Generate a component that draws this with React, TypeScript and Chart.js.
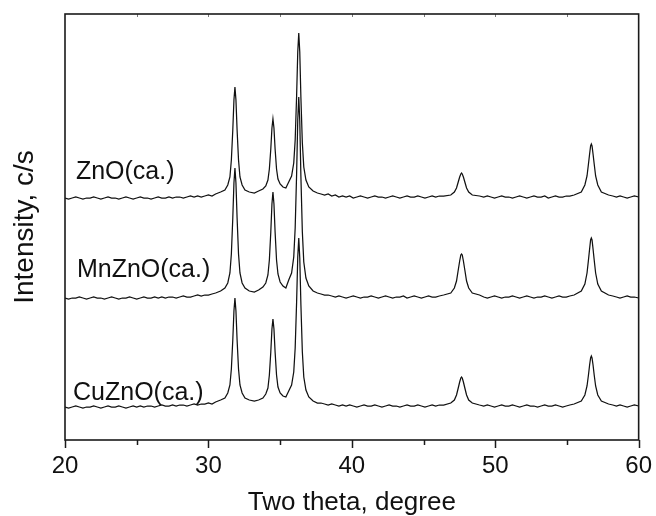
import React, { useEffect, useRef } from 'react';
import { Chart, registerables } from 'chart.js';

Chart.register(...registerables);

// Two-theta positions (degree)
const twoTheta = [
  20, 20.25, 20.5, 20.75, 21, 21.25, 21.5, 21.75, 22, 22.25, 22.5, 22.75, 23, 23.25, 23.5, 23.75, 24, 24.25, 24.5, 24.75,
  25, 25.25, 25.5, 25.75, 26, 26.25, 26.5, 26.75, 27, 27.25, 27.5, 27.75, 28, 28.25, 28.5, 28.75, 29, 29.25, 29.5, 29.75,
  30, 30.25, 30.5,
  30.85, 31.15, 31.35, 31.5, 31.6, 31.7, 31.78, 31.85, 31.92, 32.0, 32.1, 32.2, 32.35, 32.55, 32.85,
  33.2,
  33.5, 33.8, 34.0, 34.15, 34.25, 34.35, 34.43, 34.5, 34.57, 34.65, 34.75, 34.85, 35.0, 35.2,
  35.4,
  35.6, 35.8, 35.95, 36.05, 36.15, 36.23, 36.3, 36.37, 36.45, 36.55, 36.65, 36.8, 37.0, 37.3,
  37.6, 37.85, 38.1, 38.35, 38.6, 38.85, 39.1, 39.35, 39.6, 39.85, 40.1, 40.35, 40.6, 40.85, 41.1, 41.35, 41.6, 41.85,
  42.1, 42.35, 42.6, 42.85, 43.1, 43.35, 43.6, 43.85, 44.1, 44.35, 44.6, 44.85, 45.1, 45.35, 45.6, 45.85, 46.1,
  46.4, 46.9, 47.15, 47.3, 47.42, 47.52, 47.6, 47.65, 47.7, 47.78, 47.88, 48.0, 48.15, 48.4, 48.9,
  49.2, 49.45, 49.7, 49.95, 50.2, 50.45, 50.7, 50.95, 51.2, 51.45, 51.7, 51.95, 52.2, 52.45, 52.7, 52.95, 53.2, 53.45,
  53.7, 53.95, 54.2, 54.45, 54.7, 54.95, 55.2,
  55.5, 56.0, 56.25, 56.4, 56.5, 56.58, 56.65, 56.7, 56.75, 56.82, 56.9, 57.0, 57.15, 57.4, 57.9,
  58.2, 58.45, 58.7, 58.95, 59.2, 59.45, 59.7, 60,
];

// Stacked intensities (arbitrary units, offset patterns)
const znoCa = [
  242, 241, 242, 243, 242, 241, 242, 242, 243, 242, 241, 242, 243, 242, 242, 241, 242, 243, 242, 241,
  242, 243, 242, 242, 241, 242, 243, 242, 242, 243, 242, 243, 243, 242, 243, 244, 243, 244, 243, 244,
  245, 244, 246,
  248, 250, 255, 263, 280, 310, 340, 353, 340, 310, 280, 263, 255, 250, 248,
  247,
  249, 251, 254, 260, 271, 291, 312, 321, 312, 291, 271, 261, 256, 253,
  252,
  258, 264, 277, 300, 344, 388, 407, 388, 342, 297, 273, 260, 253, 249,
  247, 246, 245, 246, 244, 245, 243, 244, 243, 244, 242, 243, 244, 243, 242, 243, 244, 243,
  243, 242, 243, 244, 243, 242, 243, 244, 243, 243, 244, 243, 242, 243, 244, 243, 244,
  244, 245, 248, 252, 258, 263, 266, 267, 266, 263, 258, 252, 248, 245, 244,
  243, 244, 243, 242, 243, 244, 243, 243, 242, 243, 244, 243, 242, 243, 244, 243, 243, 244,
  242, 243, 244, 243, 243, 244, 244,
  245, 248, 255, 264, 276, 286, 294, 296, 294, 286, 276, 264, 255, 248, 245,
  244, 243, 244, 243, 242, 243, 244, 243,
];

const mnZnoCa = [
  142, 141, 142, 142, 143, 142, 141, 142, 143, 142, 142, 141, 142, 143, 142, 141, 142, 142, 143, 142,
  141, 142, 143, 142, 142, 143, 142, 143, 142, 143, 143, 142, 143, 144, 143, 143, 144, 145, 144, 145,
  145, 146, 147,
  149, 152, 157, 167, 186, 222, 257, 272, 257, 222, 186, 167, 157, 152, 149,
  148,
  150, 153, 157, 165, 180, 208, 236, 248, 236, 208, 180, 166, 158, 154,
  152,
  160, 167, 183, 212, 266, 320, 343, 319, 263, 208, 178, 162, 154, 149,
  147, 146, 145, 145, 144, 143, 144, 143, 142, 143, 144, 143, 142, 143, 143, 144, 143, 142,
  143, 144, 143, 142, 143, 143, 144, 142, 143, 144, 143, 142, 143, 144, 143, 143, 144,
  145, 147, 152, 159, 170, 179, 185, 186, 185, 179, 170, 159, 152, 147, 145,
  143, 142, 143, 144, 143, 142, 143, 143, 144, 143, 142, 143, 144, 143, 142, 143, 143, 144,
  143, 142, 143, 144, 143, 143, 144,
  145, 149, 156, 167, 180, 191, 200, 202, 200, 191, 180, 167, 156, 149, 145,
  144, 143, 142, 143, 144, 143, 143, 142,
];

const cuZnoCa = [
  33, 32, 33, 34, 33, 32, 33, 33, 34, 33, 32, 33, 34, 33, 33, 34, 33, 32, 33, 34,
  33, 34, 33, 34, 34, 33, 34, 35, 34, 34, 35, 34, 35, 35, 34, 35, 36, 35, 36, 36,
  37, 36, 38,
  40, 42, 47, 55, 71, 100, 129, 142, 129, 100, 71, 55, 47, 42, 40,
  39,
  40, 42, 46, 52, 65, 88, 111, 121, 111, 88, 65, 53, 47, 44,
  43,
  49, 55, 68, 92, 138, 183, 202, 182, 135, 88, 63, 50, 43, 39,
  37, 37, 36, 35, 36, 35, 34, 35, 34, 35, 34, 33, 34, 35, 34, 34, 35, 34,
  33, 34, 35, 34, 34, 33, 34, 35, 34, 34, 35, 34, 33, 34, 35, 34, 35,
  35, 37, 40, 45, 52, 58, 62, 63, 62, 58, 52, 45, 40, 37, 35,
  34, 35, 34, 33, 34, 35, 34, 34, 35, 34, 33, 34, 35, 34, 34, 33, 34, 35,
  34, 34, 35, 34, 33, 34, 35,
  36, 39, 45, 54, 65, 75, 82, 84, 82, 75, 65, 54, 45, 39, 36,
  35, 34, 35, 34, 33, 34, 35, 34,
];

const seriesNames = ['ZnO(ca.)', 'MnZnO(ca.)', 'CuZnO(ca.)'];
const seriesValues = [znoCa, mnZnoCa, cuZnoCa];
const xMin = 20;
const xMax = 60;
const yMin = 0;
const yMax = 426;

const FONT = '"Liberation Sans", Arial, Helvetica, sans-serif';
const INK = '#111111';

const framePlugin = {
  id: 'frameAndLabels',
  afterDraw(chart: any) {
    const { ctx, chartArea: a, scales } = chart;
    const x = scales.x;
    const y = scales.y;
    ctx.save();
    ctx.strokeStyle = '#1a1a1a';
    ctx.lineWidth = 1.5;
    for (let v = xMin; v <= xMax; v += 5) {
      const px = Math.round(x.getPixelForValue(v)) + 0.5;
      const major = v % 10 === 0;
      ctx.beginPath();
      ctx.moveTo(px, a.bottom);
      ctx.lineTo(px, a.bottom + (major ? 8 : 5));
      ctx.stroke();
    }
    ctx.strokeStyle = '#777';
    ctx.lineWidth = 1;
    for (let v = xMin + 5; v < xMax; v += 5) {
      const px = Math.round(x.getPixelForValue(v)) + 0.5;
      ctx.beginPath();
      ctx.moveTo(px, a.top);
      ctx.lineTo(px, a.top + 3);
      ctx.stroke();
    }
    ctx.strokeStyle = '#1a1a1a';
    ctx.lineWidth = 1.6;
    ctx.strokeRect(a.left, a.top, a.right - a.left, a.bottom - a.top);
    const anchors = [
      [20.76, 261],
      [20.83, 163],
      [20.56, 40],
    ];
    ctx.fillStyle = INK;
    ctx.font = `25px ${FONT}`;
    ctx.textAlign = 'left';
    ctx.textBaseline = 'alphabetic';
    seriesNames.forEach((name, i) => {
      ctx.fillText(name, x.getPixelForValue(anchors[i][0]), y.getPixelForValue(anchors[i][1]));
    });
    ctx.restore();
  },
};

export default function App() {
  const canvasRef = useRef<HTMLCanvasElement | null>(null);

  useEffect(() => {
    const canvas = canvasRef.current;
    if (!canvas) return;
    const datasets = seriesValues.map((vals, i) => ({
      label: seriesNames[i],
      data: twoTheta.slice(0, vals.length).map((t, j) => ({ x: t, y: vals[j] })),
      borderColor: INK,
      borderWidth: 1.25,
      pointRadius: 0,
      tension: 0,
      fill: false,
    }));
    const chart = new Chart(canvas, {
      type: 'line',
      data: { datasets },
      options: {
        animation: false,
        responsive: false,
        devicePixelRatio: 1,
        layout: { padding: { top: 14, right: 14, left: 0, bottom: 0 } },
        plugins: { legend: { display: false }, tooltip: { enabled: false } },
        scales: {
          x: {
            type: 'linear',
            min: xMin,
            max: xMax,
            ticks: {
              stepSize: 10,
              color: INK,
              padding: 4,
              maxRotation: 0,
              autoSkip: false,
              font: { family: FONT, size: 24 },
            },
            grid: {
              display: true,
              drawOnChartArea: false,
              drawTicks: true,
              tickLength: 8,
              color: 'rgba(0,0,0,0)',
              tickColor: 'rgba(0,0,0,0)',
            },
            border: { display: false },
            title: {
              display: true,
              text: 'Two theta, degree',
              color: INK,
              font: { family: FONT, size: 26, lineHeight: 1 },
              padding: { top: 0, bottom: 0 },
            },
            afterFit: (s: any) => {
              s.height = 76;
            },
          },
          y: {
            type: 'linear',
            min: yMin,
            max: yMax,
            ticks: { display: false },
            grid: { display: false, drawTicks: false },
            border: { display: false },
            title: {
              display: true,
              text: 'Intensity, c/s',
              color: INK,
              font: { family: FONT, size: 28, lineHeight: 1 },
              padding: { top: 11, bottom: 0 },
            },
            afterFit: (s: any) => {
              s.width = 65;
            },
          },
        },
      },
      plugins: [framePlugin],
    } as any);
    return () => chart.destroy();
  }, []);

  return (
    <div style={{ position: 'fixed', left: 0, top: 0, width: 656, height: 516, background: '#fff' }}>
      <canvas ref={canvasRef} width={656} height={516} style={{ width: 656, height: 516 }} />
    </div>
  );
}
